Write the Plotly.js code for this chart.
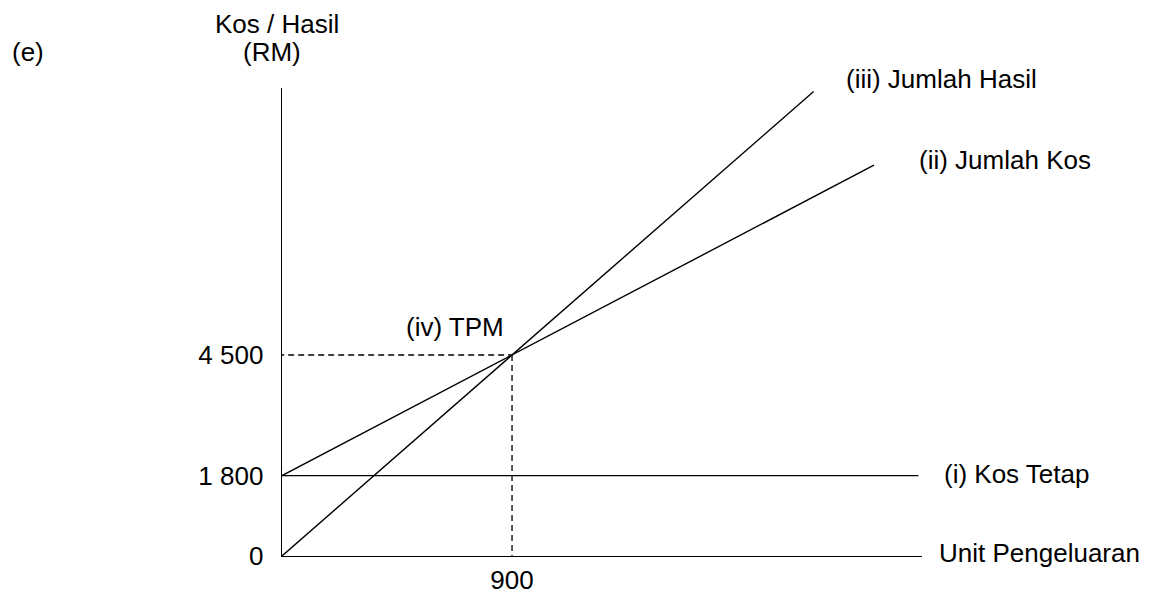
<!DOCTYPE html>
<html>
<head>
<meta charset="utf-8">
<script src="https://cdn.plot.ly/plotly-3.0.1.min.js"></script>
<style>
  html, body { margin: 0; padding: 0; background: #ffffff; }
  #chart { width: 1152px; height: 595px; }
</style>
</head>
<body>
<div id="chart"></div>
<script>
// ---- Data ----
const unitsFixed = [0, 2490];
const fixedCost = [1800, 1800];

const unitsTotalCost = [0, 900, 2316];
const totalCost = [1800, 4500, 8750];

const unitsRevenue = [0, 900, 2080];
const totalRevenue = [0, 4500, 10400];

const bepUnits = [900];
const bepValue = [4500];

const yTickVals = [0, 1800, 4500];
const yTickText = ['0', '1 800', '4 500'];
const xTickVals = [900];
const xTickText = ['900'];

const labelFixed = '(i) Kos Tetap';
const labelTotalCost = '(ii) Jumlah Kos';
const labelRevenue = '(iii) Jumlah Hasil';
const labelBep = '(iv) TPM';
const xAxisLabel = 'Unit Pengeluaran';
const yAxisLabel1 = 'Kos / Hasil';
const yAxisLabel2 = '(RM)';
const partLabel = '(e)';

// ---- Layout helpers ----
const W = 1152, H = 595;
const M = { l: 282, r: 230, t: 88, b: 39 };
const plotW = W - M.l - M.r, plotH = H - M.t - M.b;
const px = x => (x - M.l) / plotW;          // pixel -> paper x
const py = y => (H - M.b - y) / plotH;      // pixel -> paper y

const FONT = 'Liberation Sans, Arial, Helvetica, sans-serif';
const lineStyle = { color: '#000000', width: 1.4 };
const dashStyle = { color: '#000000', width: 1.3, dash: '6px,4px' };

const last = a => a[a.length - 1];

const traces = [
  { x: unitsFixed, y: fixedCost, mode: 'lines', line: lineStyle, hoverinfo: 'skip' },
  { x: unitsTotalCost, y: totalCost, mode: 'lines', line: lineStyle, hoverinfo: 'skip' },
  { x: unitsRevenue, y: totalRevenue, mode: 'lines', line: lineStyle, hoverinfo: 'skip' },
  { x: [-15, bepUnits[0]], y: [bepValue[0], bepValue[0]], mode: 'lines', line: dashStyle, hoverinfo: 'skip', cliponaxis: false },
  { x: [bepUnits[0], bepUnits[0]], y: [bepValue[0], 0], mode: 'lines', line: dashStyle, hoverinfo: 'skip' }
];

const txt = { family: FONT, size: 26, color: '#000000' };

const annotations = [
  { xref: 'paper', yref: 'paper', x: px(10), y: py(52), xanchor: 'left', yanchor: 'middle', text: partLabel, showarrow: false, font: txt },
  { xref: 'paper', yref: 'paper', x: px(277), y: py(24), xanchor: 'center', yanchor: 'middle', text: yAxisLabel1, showarrow: false, font: txt },
  { xref: 'paper', yref: 'paper', x: px(272), y: py(52), xanchor: 'center', yanchor: 'middle', text: yAxisLabel2, showarrow: false, font: txt },
  { xref: 'x', yref: 'y', x: last(unitsRevenue), y: last(totalRevenue), xanchor: 'left', yanchor: 'middle', xshift: 30, yshift: 12, text: labelRevenue, showarrow: false, font: txt },
  { xref: 'x', yref: 'y', x: last(unitsTotalCost), y: last(totalCost), xanchor: 'left', yanchor: 'middle', xshift: 43, yshift: 5, text: labelTotalCost, showarrow: false, font: txt },
  { xref: 'x', yref: 'y', x: last(unitsFixed), y: last(fixedCost), xanchor: 'left', yanchor: 'middle', xshift: 24, yshift: 2, text: labelFixed, showarrow: false, font: txt },
  { xref: 'paper', yref: 'y', x: 1, y: 0, xanchor: 'left', yanchor: 'middle', xshift: 15, yshift: 3, text: xAxisLabel, showarrow: false, font: txt },
  { xref: 'x', yref: 'y', x: bepUnits[0], y: bepValue[0], xanchor: 'right', yanchor: 'middle', xshift: -6, yshift: 28, text: labelBep, showarrow: false, font: txt }
];

const layout = {
  width: W, height: H,
  margin: M,
  paper_bgcolor: '#ffffff', plot_bgcolor: '#ffffff',
  showlegend: false,
  font: txt,
  xaxis: {
    range: [0, 2504], showline: true, linecolor: '#000000', linewidth: 1.4,
    showgrid: false, zeroline: false, ticks: '',
    tickvals: xTickVals, ticktext: xTickText, tickfont: txt,
    ticklabelstandoff: 0, fixedrange: true
  },
  yaxis: {
    range: [0, 10477], showline: true, linecolor: '#000000', linewidth: 1.4,
    showgrid: false, zeroline: false, ticks: '',
    tickvals: yTickVals, ticktext: yTickText, tickfont: txt,
    ticklabelstandoff: 12, fixedrange: true
  },
  annotations: annotations
};

Plotly.newPlot('chart', traces, layout, { displayModeBar: false, staticPlot: true });
</script>
</body>
</html>
